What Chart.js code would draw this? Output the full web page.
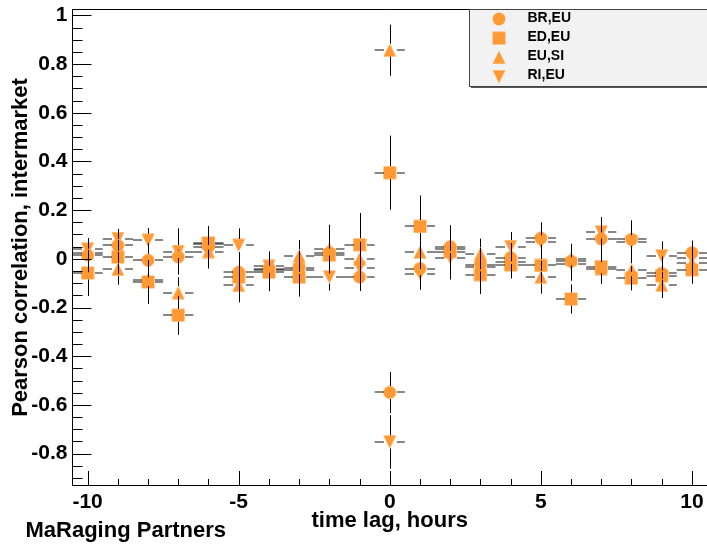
<!DOCTYPE html>
<html>
<head>
<meta charset="utf-8">
<script src="https://cdn.jsdelivr.net/npm/chart.js@4.4.1/dist/chart.umd.min.js"></script>
<style>
html,body{margin:0;padding:0;background:#ffffff;}
#c{display:block;}
</style>
</head>
<body>
<canvas id="c" width="707" height="544" style="width:707px;height:544px"></canvas>
<script>
// ---- data ----
const lags = [-10,-9,-8,-7,-6,-5,-4,-3,-2,-1,0,1,2,3,4,5,6,7,8,9,10];
const seriesLabels = ['BR,EU','ED,EU','EU,SI','RI,EU'];
const brEu = [0.015,0.055,-0.006,0.008,0.05,-0.055,-0.04,-0.036,0.025,-0.075,-0.549,-0.04,0.05,-0.025,0.005,0.085,-0.01,0.082,0.08,-0.06,0.025];
const brEuErr = [0.07,0.06,0.07,0.03,0.07,0.07,0.07,0.07,0.07,0.057,0.085,0.07,0.088,0.07,0.06,0.065,0.07,0.07,0.078,0.07,0.05];
const edEu = [-0.058,0.007,-0.095,-0.232,0.065,-0.075,-0.055,-0.075,0.015,0.058,0.354,0.133,0.03,-0.065,-0.025,-0.027,-0.165,-0.032,-0.08,-0.07,-0.045];
const edEuErr = [0.095,0.07,0.09,0.08,0.07,0.07,0.078,0.08,0.07,0.13,0.152,0.127,0.07,0.08,0.055,0.07,0.06,0.07,0.05,0.07,0.057];
const euSi = [0.025,-0.043,-0.085,-0.139,0.03,-0.109,-0.047,0.012,0.04,0.0,0.857,0.028,0.04,0.02,-0.015,-0.075,0.0,-0.04,-0.045,-0.108,-0.017];
const euSiErr = [0.06,0.063,0.07,0.064,0.07,0.07,0.07,0.065,0.1,0.07,0.105,0.07,0.07,0.063,0.065,0.068,0.062,0.062,0.07,0.053,0.07];
const riEu = [0.04,0.083,0.076,0.03,0.06,0.055,-0.031,-0.044,-0.075,-0.036,-0.752,-0.062,0.005,-0.035,0.05,0.07,-0.02,0.11,0.07,0.012,0.002];
const riEuErr = [0.045,0.04,0.05,0.095,0.07,0.07,0.06,0.07,0.055,0.07,0.11,0.065,0.09,0.07,0.06,0.07,0.07,0.062,0.07,0.06,0.07];
const lagHalfWidth = 0.5;
const xTickLabels = [-10,-5,0,5,10];
const yTickLabels = [-0.8,-0.6,-0.4,-0.2,0,0.2,0.4,0.6,0.8,1];
const xTitle = 'time lag, hours';
const yTitle = 'Pearson correlation, intermarket';
const footerText = 'MaRaging Partners';

// ---- style ----
const ORANGE = 'rgb(255,153,51)';
const FONT = '"Liberation Sans", Arial, Helvetica, sans-serif';

function makeMarker(shape){
  const s = 14, c = document.createElement('canvas');
  c.width = s; c.height = s;
  const g = c.getContext('2d');
  g.fillStyle = ORANGE;
  g.beginPath();
  const h = s/2, r = 6.4;
  if (shape === 'circle') g.arc(h, h, r, 0, 2*Math.PI);
  else if (shape === 'square') g.rect(h-r, h-r, 2*r, 2*r);
  else if (shape === 'up') { g.moveTo(h, h-r); g.lineTo(h+r, h+r); g.lineTo(h-r, h+r); g.closePath(); }
  else { g.moveTo(h, h+r); g.lineTo(h+r, h-r); g.lineTo(h-r, h-r); g.closePath(); }
  g.fill();
  return c;
}
const markers = [makeMarker('circle'), makeMarker('square'), makeMarker('up'), makeMarker('down')];
const values = [brEu, edEu, euSi, riEu];
const errors = [brEuErr, edEuErr, euSiErr, riEuErr];

const datasets = values.map((vals, i) => ({
  label: seriesLabels[i],
  data: lags.map((x, j) => ({x: x, y: vals[j]})),
  pointStyle: markers[i],
  pointRadius: 7,
  pointHoverRadius: 7,
  showLine: false,
  backgroundColor: ORANGE,
  borderColor: ORANGE,
  errs: errors[i]
}));

const framePlugin = {
  id: 'frame',
  afterDatasetsDraw(chart) {
    const ctx = chart.ctx, xs = chart.scales.x, ys = chart.scales.y;
    ctx.save();
    const gap = 6.5;
    chart.data.datasets.forEach(ds => {
      ds.data.forEach((p, j) => {
        const px = Math.round(xs.getPixelForValue(p.x)) + 0.5;
        const py = ys.getPixelForValue(p.y);
        const t = ys.getPixelForValue(p.y + ds.errs[j]);
        const b = ys.getPixelForValue(p.y - ds.errs[j]);
        const l = xs.getPixelForValue(p.x - lagHalfWidth);
        const r = xs.getPixelForValue(p.x + lagHalfWidth);
        ctx.strokeStyle = '#000';
        ctx.lineWidth = 1;
        ctx.beginPath();
        if (t < py - gap) { ctx.moveTo(px, t); ctx.lineTo(px, py - gap); }
        if (b > py + gap) { ctx.moveTo(px, py + gap); ctx.lineTo(px, b); }
        ctx.stroke();
        const hy = Math.round(py);
        ctx.strokeStyle = '#111';
        ctx.beginPath();
        ctx.moveTo(l, hy); ctx.lineTo(px - gap, hy);
        ctx.moveTo(px + gap, hy); ctx.lineTo(r, hy);
        ctx.stroke();
      });
    });
    ctx.restore();
  },
  afterDraw(chart) {
    const ctx = chart.ctx, xs = chart.scales.x, ys = chart.scales.y, a = chart.chartArea;
    ctx.save();
    ctx.strokeStyle = '#000';
    ctx.lineWidth = 1;
    ctx.beginPath();
    ctx.moveTo(a.left, a.top + 0.5); ctx.lineTo(a.right, a.top + 0.5);
    ctx.moveTo(a.left, a.top); ctx.lineTo(a.left, a.bottom);
    ctx.moveTo(a.left, a.bottom - 0.5); ctx.lineTo(a.right, a.bottom - 0.5);
    ctx.stroke();
    ctx.beginPath();
    for (let k = -18; k <= 20; k++) {
      const v = k * 0.05;
      const py = Math.round(ys.getPixelForValue(v)) + 0.5;
      if (py < a.top || py > a.bottom) continue;
      const major = (k % 4 === 0);
      const len = major ? 19 : 10;
      ctx.moveTo(a.left, py); ctx.lineTo(a.left + len, py);
    }
    ctx.stroke();
    ctx.beginPath();
    for (let k = -10; k <= 10; k++) {
      const px = Math.round(xs.getPixelForValue(k)) + 0.5;
      const major = (k % 5 === 0);
      const len = major ? 15 : 7;
      ctx.moveTo(px, a.bottom); ctx.lineTo(px, a.bottom - len);
    }
    ctx.stroke();
    // legend
    const lx = 469.5, ly = 9.5, lw = 300, lh = 77;
    ctx.fillStyle = '#555';
    ctx.fillRect(lx + 1.5, ly + 1.5, lw, lh);
    ctx.fillStyle = '#f2f2f2';
    ctx.fillRect(lx, ly, lw, lh);
    ctx.strokeStyle = '#444';
    ctx.strokeRect(lx, ly, lw, lh);
    ctx.font = 'bold 14px ' + FONT;
    ctx.textBaseline = 'middle';
    ctx.textAlign = 'left';
    ctx.fillStyle = '#000';
    seriesLabels.forEach((lab, i) => {
      const my = 19 + i * 19.2;
      const m = markers[i];
      ctx.drawImage(m, 499 - m.width/2, my - m.height/2);
      ctx.fillText(lab, 527.5, my - 1);
    });
    ctx.font = 'bold 22px ' + FONT;
    ctx.textBaseline = 'alphabetic';
    ctx.fillText(footerText, 25.5, 536.5);
    ctx.restore();
  }
};

new Chart(document.getElementById('c'), {
  type: 'scatter',
  data: { datasets: datasets },
  options: {
    responsive: false,
    animation: false,
    devicePixelRatio: 1,
    layout: { autoPadding: false, padding: { left: 0, right: 0, top: 9, bottom: 0 } },
    plugins: { legend: { display: false }, tooltip: { enabled: false } },
    scales: {
      x: {
        type: 'linear', min: -10.5, max: 10.5,
        afterFit(s) { s.height = 58; s.paddingLeft = 0; s.paddingRight = 0; },
        afterBuildTicks(s) { s.ticks = xTickLabels.map(v => ({value: v})); },
        grid: { display: false, drawTicks: false },
        border: { display: false },
        ticks: { color: '#000', padding: 4, maxRotation: 0, autoSkip: false,
                 font: { family: FONT, weight: 'bold', size: 21 } },
        title: { display: true, text: xTitle, color: '#000', padding: { top: 0, bottom: 10 },
                 font: { family: FONT, weight: 'bold', size: 22 } }
      },
      y: {
        type: 'linear', min: -0.933, max: 1.026,
        afterFit(s) { s.width = 72.5; s.paddingTop = 0; s.paddingBottom = 0; },
        afterBuildTicks(s) { s.ticks = yTickLabels.map(v => ({value: v})); },
        grid: { display: false, drawTicks: false },
        border: { display: false },
        ticks: { color: '#000', padding: 5, autoSkip: false,
                 font: { family: FONT, weight: 'bold', size: 21 },
                 callback: v => String(Math.round(v * 10) / 10) },
        title: { display: true, text: yTitle, color: '#000', padding: { top: 7.5, bottom: 0 },
                 font: { family: FONT, weight: 'bold', size: 22 } }
      }
    }
  },
  plugins: [framePlugin]
});
</script>
</body>
</html>
